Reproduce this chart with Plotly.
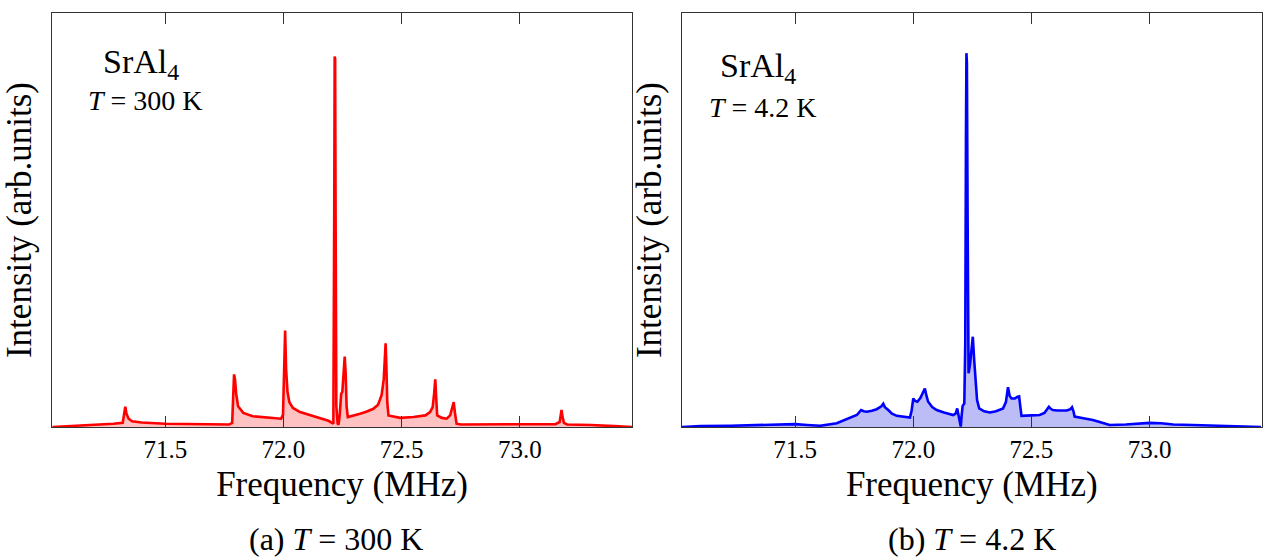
import plotly.graph_objects as go

# ---- data (frequency in MHz, intensity in arb. units) ----
freq_300K = [71.023, 71.10, 71.20, 71.28, 71.32, 71.326, 71.331, 71.336, 71.345, 71.36,
             71.40, 71.50, 71.60, 71.70, 71.77, 71.783, 71.787, 71.791, 71.795, 71.800,
             71.808, 71.83, 71.87, 71.93, 71.99, 71.998, 72.003, 72.007, 72.011, 72.017,
             72.025, 72.04, 72.07, 72.10, 72.155, 72.19, 72.205, 72.211, 72.2145, 72.2165,
             72.2185, 72.2205, 72.2235, 72.229, 72.233, 72.238, 72.244, 72.249, 72.255, 72.259,
             72.263, 72.267, 72.272, 72.30, 72.324, 72.35, 72.38, 72.40, 72.415, 72.424,
             72.429, 72.432, 72.435, 72.439, 72.444, 72.47, 72.493, 72.55, 72.60, 72.62,
             72.631, 72.637, 72.642, 72.646, 72.650, 72.67, 72.69, 72.705, 72.711, 72.716,
             72.720, 72.725, 72.732, 72.75, 72.90, 73.05, 73.15, 73.168, 73.173, 73.176,
             73.180, 73.186, 73.20, 73.30, 73.40, 73.476]
int_300K = [0.0, 0.2, 0.5, 0.8, 1.0, 3.0, 4.9, 3.2, 2.0, 1.4,
            1.1, 0.8, 0.7, 0.6, 0.6, 1.0, 8.0, 12.7, 11.5, 8.0,
            5.0, 3.4, 2.6, 2.3, 2.0, 3.0, 14.0, 23.3, 14.0, 8.5,
            6.0, 4.6, 3.6, 3.1, 2.2, 1.5, 1.0, 0.8, 50.0, 89.5,
            89.0, 50.0, 5.0, 0.8, 0.6, 3.0, 8.0, 8.5, 14.0, 17.0,
            13.0, 5.0, 2.4, 2.8, 3.2, 3.7, 4.4, 5.4, 7.7, 11.5,
            17.0, 20.2, 15.0, 6.0, 2.8, 2.4, 2.2, 2.4, 2.8, 3.6,
            4.8, 8.0, 11.5, 7.0, 2.8, 2.2, 2.0, 2.8, 4.0, 5.5,
            6.0, 3.5, 0.8, 0.6, 0.6, 0.6, 0.7, 1.2, 3.0, 4.1,
            2.5, 1.0, 0.6, 0.5, 0.2, 0.0]

freq_4K = [71.021, 71.10, 71.225, 71.35, 71.437, 71.50, 71.55, 71.606, 71.676, 71.718,
           71.761, 71.779, 71.790, 71.803, 71.825, 71.845, 71.865, 71.873, 71.880, 71.894,
           71.910, 71.930, 71.960, 71.986, 71.993, 72.000, 72.008, 72.017, 72.030, 72.042,
           72.049, 72.056, 72.063, 72.080, 72.099, 72.130, 72.169, 72.180, 72.186, 72.191,
           72.196, 72.201, 72.205, 72.209, 72.216, 72.220, 72.223, 72.225, 72.227, 72.230,
           72.234, 72.240, 72.246, 72.252, 72.258, 72.265, 72.270, 72.279, 72.300, 72.324,
           72.350, 72.380, 72.392, 72.401, 72.408, 72.416, 72.430, 72.442, 72.448, 72.453,
           72.458, 72.50, 72.535, 72.555, 72.574, 72.582, 72.591, 72.610, 72.634, 72.650,
           72.665, 72.672, 72.678, 72.683, 72.72, 72.760, 72.80, 72.831, 72.90, 72.95,
           73.00, 73.05, 73.10, 73.183, 73.30, 73.394, 73.472]
int_4K = [0.0, 0.2, 0.3, 0.5, 0.6, 0.7, 0.5, 0.3, 0.9, 1.85,
          2.9, 4.1, 3.8, 3.7, 3.9, 4.3, 5.0, 5.6, 4.8, 4.1,
          3.2, 2.7, 2.4, 2.3, 4.0, 6.9, 6.3, 6.1, 7.0, 8.3,
          9.3, 7.5, 6.1, 4.8, 4.1, 3.5, 2.9, 3.3, 4.5, 3.0,
          1.2, 0.1, 3.0, 5.1, 5.7, 20.0, 70.0, 90.3, 88.0, 50.0,
          13.0, 15.0, 18.0, 21.8, 16.0, 11.4, 6.5, 4.5, 3.8, 3.5,
          3.8, 4.5, 6.0, 9.6, 7.5, 6.9, 6.9, 7.3, 7.4, 5.0,
          2.7, 2.8, 2.9, 3.4, 4.9, 4.4, 4.1, 4.0, 4.1, 4.0,
          4.3, 4.75, 3.8, 2.5, 2.1, 1.7, 1.0, 0.5, 0.6, 0.8,
          1.0, 0.9, 0.6, 0.5, 0.3, 0.0, 0.0]

tick_vals = [71.5, 72.0, 72.5, 73.0]
tick_text = ["71.5", "72.0", "72.5", "73.0"]
x_range = [71.021, 73.474]
y_range = [0, 100]

FONT = "Liberation Serif"

fig = go.Figure()
fig.add_trace(go.Scatter(x=freq_300K, y=int_300K, mode="lines", fill="tozeroy",
                         line=dict(color="#ff0000", width=2.6), fillcolor="#ffc2c2",
                         xaxis="x", yaxis="y", showlegend=False, hoverinfo="skip"))
fig.add_trace(go.Scatter(x=freq_4K, y=int_4K, mode="lines", fill="tozeroy",
                         line=dict(color="#0000ff", width=2.6), fillcolor="#bcbcf6",
                         xaxis="x2", yaxis="y2", showlegend=False, hoverinfo="skip"))

ydom = [1 - 427 / 559, 1 - 13 / 559]
xcommon = dict(range=x_range, tickvals=tick_vals, ticktext=tick_text, ticks="inside",
               ticklen=11, tickwidth=1, tickcolor="#333", showline=True, linecolor="#333",
               linewidth=1, mirror="ticks", showgrid=False, zeroline=False,
               tickfont=dict(family=FONT, size=25, color="black"),
               title=dict(text="Frequency (MHz)", font=dict(family=FONT, size=35, color="black"),
                          standoff=9))
ycommon = dict(range=y_range, domain=ydom, showticklabels=False, ticks="", showline=True,
               linecolor="#333", linewidth=1, mirror=True, showgrid=False, zeroline=False,
               title=dict(text="Intensity (arb.units)", font=dict(family=FONT, size=35, color="black"),
                          standoff=8))

fig.update_layout(
    width=1263, height=559, margin=dict(l=0, r=0, t=0, b=0),
    paper_bgcolor="white", plot_bgcolor="white",
    xaxis=dict(domain=[52 / 1263, 632 / 1263], anchor="y", **xcommon),
    yaxis=dict(anchor="x", **ycommon),
    xaxis2=dict(domain=[682 / 1263, 1261.5 / 1263], anchor="y2", **xcommon),
    yaxis2=dict(anchor="x2", **ycommon),
)

ann = [
    ("SrAl<sub>4</sub>", 141, 64, 34, "middle"),
    ("<i>T</i> = 300 K", 145, 101, 28, "middle"),
    ("SrAl<sub>4</sub>", 758, 68, 34, "middle"),
    ("<i>T</i> = 4.2 K", 763, 107, 28, "middle"),
    ("(a) <i>T</i> = 300 K", 336, 559, 32, "bottom"),
    ("(b) <i>T</i> = 4.2 K", 972, 559, 32, "bottom"),
]
for text, px, py, size, ya in ann:
    fig.add_annotation(text=text, x=px / 1263, y=1 - py / 559, xref="paper", yref="paper",
                       xanchor="center", yanchor=ya, showarrow=False,
                       font=dict(family=FONT, size=size, color="black"))

fig.write_html("out.html", config={"displayModeBar": False},
               post_script="document.body.style.margin='0';document.body.style.overflow='hidden';")
